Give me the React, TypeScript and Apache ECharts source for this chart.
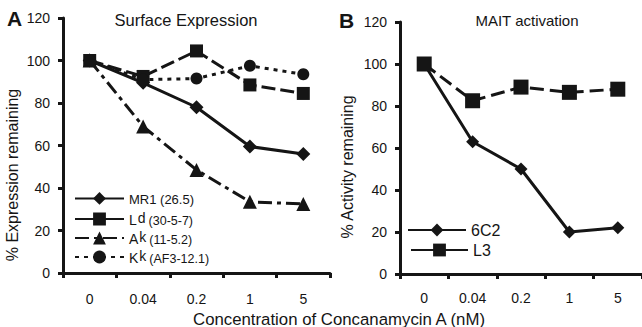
import React, { useEffect, useRef } from 'react';
import * as echarts from 'echarts';

const categories = ['0', '0.04', '0.2', '1', '5'];
const mr1 = [100, 89.5, 78, 59.5, 56];
const ld = [100, 92.5, 104.5, 88.5, 84.5];
const ak = [100, 69, 48.5, 33.5, 32.5];
const kk = [100, 91, 91.5, 97.5, 93.5];
const c6c2 = [100, 63, 50, 20, 22];
const l3 = [100, 82.5, 89, 86.5, 88];

const FONT = "'Liberation Sans', Arial, sans-serif";
const INK = '#151515';

export default function App() {
  const ref = useRef<HTMLDivElement>(null);
  useEffect(() => {
    const chart = echarts.init(ref.current!, null, { renderer: 'svg' });
    const axisLine = { show: true, lineStyle: { color: INK, width: 3 } };
    const axisTick = { show: true, length: 5, lineStyle: { color: INK, width: 3 } };
    const lbl = { color: INK, fontSize: 14, fontFamily: FONT };
    const rich = {
      m: { fontSize: 13, color: INK, fontFamily: FONT, verticalAlign: 'bottom', lineHeight: 16 },
      n: { fontSize: 14, color: INK, fontFamily: FONT, verticalAlign: 'bottom', lineHeight: 16 },
      s: { fontSize: 14, color: INK, fontFamily: FONT, verticalAlign: 'top', lineHeight: 14, padding: [0, 3, 6, 1] },
      p: { fontSize: 12.5, color: INK, fontFamily: FONT, verticalAlign: 'bottom', lineHeight: 16 },
    };
    const mkLegend = (name: string, left: number, top: number, width: number, fmt: string, size = 13, solidIcon = false) => ({
      data: [solidIcon ? { name, lineStyle: { type: 'solid' } } : name],
      left,
      top,
      orient: 'vertical',
      padding: 0,
      itemWidth: width,
      itemHeight: 16,
      selectedMode: false,
      formatter: () => fmt,
      textStyle: { color: INK, fontFamily: FONT, fontSize: size, rich },
    });
    const mkSeries = (name: string, data: number[], idx: number, symbol: string, symbolSize: number, type: any) => ({
      name,
      type: 'line',
      xAxisIndex: idx,
      yAxisIndex: idx,
      data,
      symbol,
      symbolSize,
      lineStyle: { color: INK, width: 3, type },
      itemStyle: { color: INK },
      emphasis: { disabled: true },
    });
    const option: any = {
      animation: false,
      textStyle: { fontFamily: FONT },
      title: [
        { text: 'Surface Expression', left: 186, top: 11, padding: 0, textAlign: 'center', textStyle: { fontSize: 16.5, fontWeight: 'normal', color: INK, fontFamily: FONT } },
        { text: 'MAIT activation', left: 527, top: 13, padding: 0, textAlign: 'center', textStyle: { fontSize: 15, fontWeight: 'normal', color: INK, fontFamily: FONT } },
      ],
      grid: [
        { left: 63, top: 18, width: 267, height: 255 },
        { left: 400, top: 22, width: 246, height: 252 },
      ],
      xAxis: [0, 1].map((i) => ({
        type: 'category',
        gridIndex: i,
        data: categories,
        boundaryGap: true,
        axisLine,
        axisTick,
        axisLabel: { ...lbl, margin: i === 0 ? 19 : 17 },
      })),
      yAxis: [0, 1].map((i) => ({
        type: 'value',
        gridIndex: i,
        min: 0,
        max: 120,
        interval: 20,
        axisLine,
        axisTick,
        splitLine: { show: false },
        axisLabel: { ...lbl, margin: 13 },
      })),
      legend: [
        mkLegend('MR1', 74, 192, 49, '{m|MR1 (26.5)}'),
        mkLegend('Ld', 74, 211, 49, '{n|L}{s|d}{p|(30-5-7)}', 13, true),
        mkLegend('Ak', 74, 230, 49, '{n|A}{s|k}{p|(11-5.2)}'),
        mkLegend('Kk', 74, 249, 49, '{n|K}{s|k}{p|(AF3-12.1)}'),
        mkLegend('6C2', 407, 222, 58, '6C2', 16),
        mkLegend('L3', 410, 242, 57, 'L3', 16, true),
      ],
      series: [
        mkSeries('MR1', mr1, 0, 'diamond', 14, 'solid'),
        mkSeries('Ld', ld, 0, 'rect', 13, [14, 5]),
        mkSeries('Ak', ak, 0, 'triangle', 14, [14, 5, 4, 5]),
        mkSeries('Kk', kk, 0, 'circle', 12, [4, 5]),
        mkSeries('6C2', c6c2, 1, 'diamond', 13, 'solid'),
        mkSeries('L3', l3, 1, 'rect', 15, [14, 6]),
      ],
      graphic: [
        { type: 'text', x: 7, y: 8, style: { text: 'A', fontSize: 21, fontWeight: 'bold', fontFamily: FONT, fill: INK } },
        { type: 'text', x: 339, y: 10, style: { text: 'B', fontSize: 21, fontWeight: 'bold', fontFamily: FONT, fill: INK } },
        { type: 'text', x: 12, y: 175, rotation: Math.PI / 2, style: { text: '% Expression remaining', fontSize: 16, fontFamily: FONT, fill: INK, align: 'center', verticalAlign: 'middle' } },
        { type: 'text', x: 347, y: 167, rotation: Math.PI / 2, style: { text: '% Activity remaining', fontSize: 16, fontFamily: FONT, fill: INK, align: 'center', verticalAlign: 'middle' } },
        { type: 'text', x: 339, y: 319, style: { text: 'Concentration of Concanamycin A (nM)', fontSize: 16.8, fontFamily: FONT, fill: INK, align: 'center', verticalAlign: 'middle' } },
      ],
    };
    chart.setOption(option);
    return () => chart.dispose();
  }, []);
  return <div ref={ref} style={{ position: 'absolute', left: 0, top: 0, width: 642, height: 327 }} />;
}
